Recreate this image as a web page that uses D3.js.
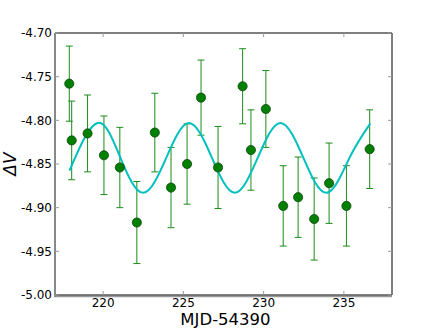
<!DOCTYPE html>
<html><head><meta charset="utf-8">
<script src="https://cdn.jsdelivr.net/npm/d3@7"></script>
<style>body{margin:0;background:#fff}svg{display:block;font-family:"DejaVu Sans",sans-serif}</style>
</head><body><svg id="c" width="436" height="329"></svg>
<script>
// Observations (MJD-54390), magnitude difference, 1-sigma errors
const mjd = [217.89, 218.04, 219.03, 220.05, 221.04, 222.10, 223.22, 224.23, 225.23, 226.10, 227.16, 228.69, 229.21, 230.14, 231.22, 232.15, 233.15, 234.08, 235.16, 236.61];
const dV = [-4.758, -4.823, -4.815, -4.840, -4.854, -4.917, -4.814, -4.877, -4.850, -4.774, -4.854, -4.761, -4.834, -4.787, -4.898, -4.888, -4.913, -4.872, -4.898, -4.833];
const dVerr = [0.043, 0.045, 0.044, 0.045, 0.046, 0.047, 0.045, 0.046, 0.046, 0.043, 0.047, 0.043, 0.046, 0.044, 0.046, 0.046, 0.047, 0.046, 0.046, 0.045];
// Model curve (extremes and mid-crossings)
const fitX = [217.9, 219.65, 221.08, 222.5, 223.93, 225.35, 226.78, 228.2, 229.63, 231.05, 232.48, 233.93, 235.35, 236.65];
const fitY = [-4.8577, -4.803, -4.843, -4.883, -4.843, -4.803, -4.843, -4.883, -4.843, -4.803, -4.843, -4.883, -4.843, -4.8035];
const xTicks = [220, 225, 230, 235];
const yTicks = [-5.00, -4.95, -4.90, -4.85, -4.80, -4.75, -4.70];

const svg = d3.select("#c");
const L = 55, R = 392, T = 33, B = 295;
const x = d3.scaleLinear().domain([217, 238]).range([L, R]);
const y = d3.scaleLinear().domain([-5.00, -4.70]).range([B, T]);

// error bars
const eb = svg.append("g").attr("stroke", "#1a8c1a").attr("stroke-width", 1).attr("fill", "none");
mjd.forEach((m, i) => {
  const cx = x(m), y1 = y(dV[i] + dVerr[i]), y2 = y(dV[i] - dVerr[i]);
  eb.append("line").attr("x1", cx).attr("x2", cx).attr("y1", y1).attr("y2", y2);
  eb.append("line").attr("x1", cx - 3.5).attr("x2", cx + 3.5).attr("y1", y1).attr("y2", y1);
  eb.append("line").attr("x1", cx - 3.5).attr("x2", cx + 3.5).attr("y1", y2).attr("y2", y2);
});

// model curve
const pts = fitX.map((v, i) => [v, fitY[i]]);
svg.append("path").datum(pts)
  .attr("d", d3.line().x(d => x(d[0])).y(d => y(d[1])).curve(d3.curveNatural))
  .attr("fill", "none").attr("stroke", "#00bfbf").attr("stroke-width", 2);

// points
svg.append("g").selectAll("circle").data(mjd).join("circle")
  .attr("cx", d => x(d)).attr("cy", (d, i) => y(dV[i])).attr("r", 4.6)
  .attr("fill", "#008000").attr("stroke", "#0a3a0a").attr("stroke-width", 0.7);

// frame
svg.append("line").attr("x1", L).attr("x2", R).attr("y1", T).attr("y2", T).attr("stroke", "#000");
svg.append("line").attr("x1", R).attr("x2", R).attr("y1", T).attr("y2", B).attr("stroke", "#000");
svg.append("line").attr("x1", L - 1).attr("x2", R).attr("y1", B + 1.5).attr("y2", B + 1.5).attr("stroke", "#999").attr("stroke-width", 1.5);
svg.append("line").attr("x1", L).attr("x2", R).attr("y1", B).attr("y2", B).attr("stroke", "#000");
svg.append("line").attr("x1", L).attr("x2", L).attr("y1", T).attr("y2", B + 2).attr("stroke", "#888").attr("stroke-width", 2);

// ticks
const tk = svg.append("g").attr("stroke", "#999").attr("stroke-width", 1);
xTicks.forEach(t => {
  tk.append("line").attr("x1", x(t)).attr("x2", x(t)).attr("y1", T).attr("y2", T + 4);
  tk.append("line").attr("x1", x(t)).attr("x2", x(t)).attr("y1", B - 4).attr("y2", B);
});
yTicks.forEach(t => {
  tk.append("line").attr("x1", L).attr("x2", L + 4).attr("y1", y(t)).attr("y2", y(t));
  tk.append("line").attr("x1", R - 4).attr("x2", R).attr("y1", y(t)).attr("y2", y(t));
});

// labels
svg.append("g").selectAll("text").data(xTicks).join("text")
  .attr("x", d => x(d)).attr("y", 306.5).attr("text-anchor", "middle")
  .attr("font-size", 12).attr("fill", "#000").text(d => d);
svg.append("g").selectAll("text").data(yTicks).join("text")
  .attr("x", 52).attr("y", d => y(d) + 4.4).attr("text-anchor", "end")
  .attr("font-size", 12).attr("fill", "#000").text(d => d.toFixed(2));

svg.append("text").attr("x", (L + R) / 2 + 2).attr("y", 325).attr("text-anchor", "middle")
  .attr("font-size", 16.5).attr("fill", "#000").text("MJD-54390");
svg.append("text").attr("transform", "translate(16," + ((T + B) / 2) + ") rotate(-90)")
  .attr("text-anchor", "middle").attr("font-size", 17).attr("font-style", "italic").attr("fill", "#000").text("ΔV");
</script></body></html>
